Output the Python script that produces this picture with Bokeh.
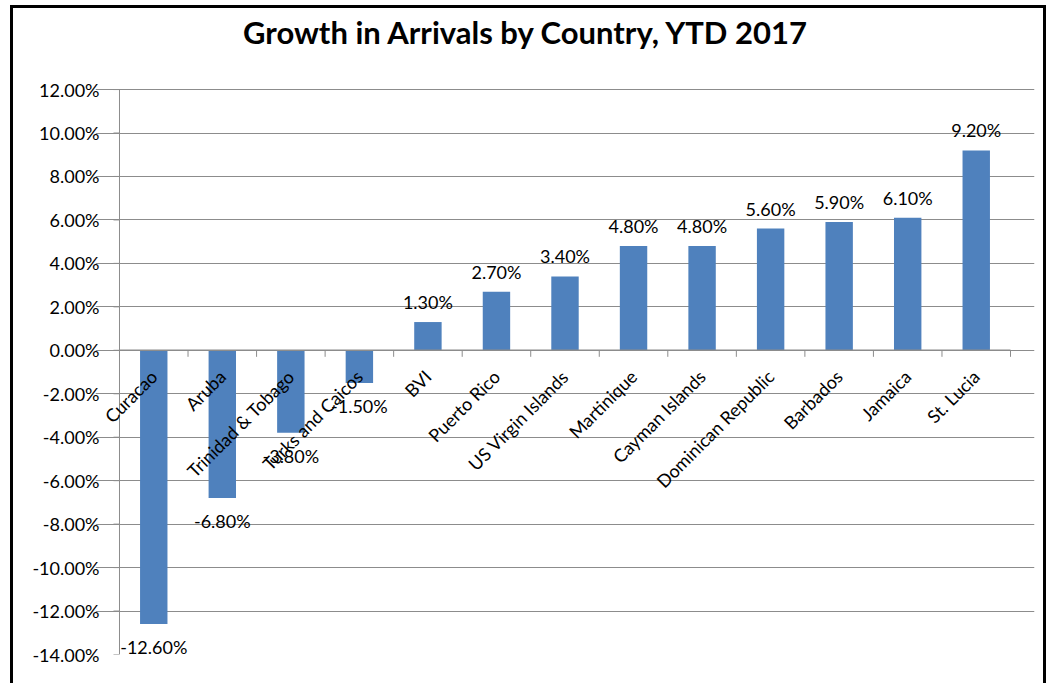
import math
from bokeh.plotting import figure
from bokeh.models import (FactorRange, Range1d, NumeralTickFormatter, ColumnDataSource,
                          FixedTicker, Label)
from bokeh.core.properties import value
from bokeh.embed import file_html
from bokeh.resources import INLINE

title = "Growth in Arrivals by Country, YTD 2017"
countries = ["Curacao", "Aruba", "Trinidad & Tobago", "Turks and Caicos", "BVI", "Puerto Rico",
             "US Virgin Islands", "Martinique", "Cayman Islands", "Dominican Republic", "Barbados",
             "Jamaica", "St. Lucia"]
growth = [-0.126, -0.068, -0.038, -0.015, 0.013, 0.027, 0.034, 0.048, 0.048, 0.056, 0.059, 0.061, 0.092]
y_ticks = [-0.14, -0.12, -0.10, -0.08, -0.06, -0.04, -0.02, 0.0, 0.02, 0.04, 0.06, 0.08, 0.10, 0.12]

FONT = "Lato"
BLUE = "#4F81BD"
GRID = "#8C8C8C"

n = len(countries)
# frame is padded so rotated labels and the title are not clipped
p = figure(x_range=FactorRange(*countries, range_padding=0.35, range_padding_units="absolute"),
           y_range=Range1d(y_ticks[0], 0.1573),
           width=1036, height=678, output_backend="svg", toolbar_location=None,
           min_border_left=82, min_border_right=15, min_border_top=0, min_border_bottom=32)
p.margin = (5, 0, 0, 10)
p.styles = {"border-left": "3px solid black", "border-top": "3px solid black",
            "border-right": "3px solid black", "box-sizing": "border-box"}

# title (screen units relative to frame)
p.add_layout(Label(x=431, y=623, x_units="screen", y_units="screen", text=title,
                   text_align="center", text_baseline="middle",
                   text_font=FONT, text_font_size="31px", text_font_style="bold",
                   text_color="black"))

src = ColumnDataSource(dict(x=countries, y=growth))
pos = ColumnDataSource(dict(x=[c for c, v in zip(countries, growth) if v >= 0],
                            y=[v for v in growth if v >= 0],
                            lbl=[f"{v*100:.2f}%" for v in growth if v >= 0]))
neg = ColumnDataSource(dict(x=[c for c, v in zip(countries, growth) if v < 0],
                            y=[v for v in growth if v < 0],
                            lbl=[f"{v*100:.2f}%" for v in growth if v < 0]))

# axes styling
p.xaxis.visible = False
p.xgrid.grid_line_color = None
p.ygrid.grid_line_color = GRID
p.ygrid.grid_line_width = 1
p.ygrid.bounds = (0, n)
p.yaxis.ticker = FixedTicker(ticks=y_ticks)
p.yaxis.formatter = NumeralTickFormatter(format="0.00%")
p.yaxis.axis_line_color = None
p.yaxis.major_tick_line_color = None
p.yaxis.major_tick_out = 0
p.yaxis.major_tick_in = 0
p.yaxis.minor_tick_line_color = None
p.yaxis.major_label_text_font = FONT
p.yaxis.major_label_text_font_size = "18px"
p.yaxis.major_label_text_color = "black"
p.yaxis.major_label_standoff = -4
p.outline_line_color = None

# value axis line and its tick marks at category position 0
tick_len = 0.0876
p.segment(x0=[0], y0=[y_ticks[0]], x1=[0], y1=[y_ticks[-1]], line_color=GRID, line_width=1)
p.segment(x0=[-tick_len] * len(y_ticks), y0=y_ticks, x1=[0] * len(y_ticks), y1=y_ticks,
          line_color=GRID, line_width=1)

p.vbar(x="x", top="y", bottom=0, width=0.4, source=src, fill_color=BLUE, line_color=None)

# zero (category) axis line and category tick marks
bounds = list(range(n + 1))
p.segment(x0=[0], y0=[0], x1=[n], y1=[0], line_color=GRID, line_width=1.5)
p.segment(x0=bounds, y0=[0] * len(bounds), x1=bounds, y1=[-0.003] * len(bounds),
          line_color=GRID, line_width=1)

# category labels rotated
for i, c in enumerate(countries):
    p.add_layout(Label(x=i + 0.5, y=0, text=c, angle=math.pi / 4,
                       text_align="right", text_baseline="middle", x_offset=0, y_offset=-23,
                       text_font=FONT, text_font_size="18px", text_color="black"))

# data labels
p.text(x="x", y="y", text="lbl", source=pos, text_align="center", text_baseline="bottom",
       y_offset=-9, text_font=value(FONT), text_font_size="18px", text_color="black")
p.text(x="x", y="y", text="lbl", source=neg, text_align="center", text_baseline="top",
       y_offset=12, text_font=value(FONT), text_font_size="18px", text_color="black")

open("out.html", "w").write(file_html(p, INLINE))
